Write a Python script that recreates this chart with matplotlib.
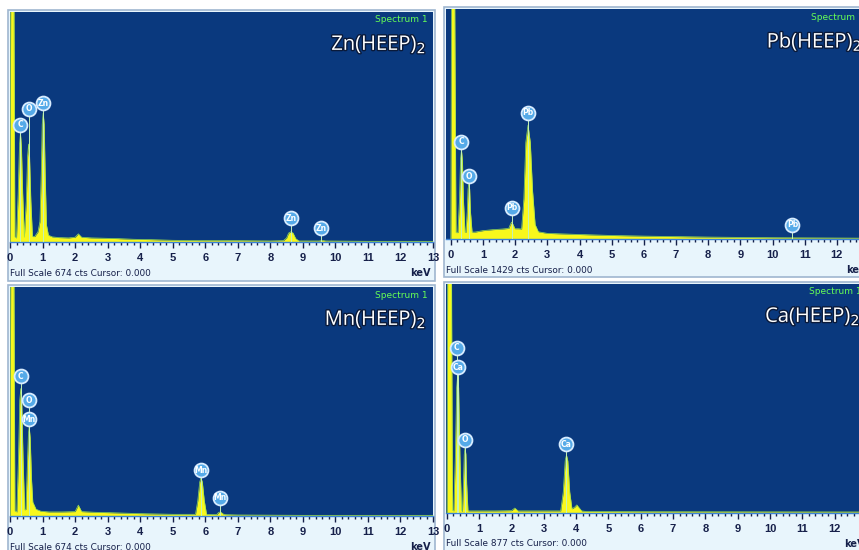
import matplotlib
matplotlib.use("Agg")
import matplotlib.pyplot as plt
import matplotlib.patheffects as pe
from matplotlib.patches import Rectangle
import numpy as np

W, H = 859, 550

# --- spectra: (keV, counts) outline points and peak labels ---
zn_kev = [0.00, 0.02, 0.12, 0.15,
          0.20, 0.25, 0.29, 0.32, 0.35, 0.39, 0.44,
          0.50, 0.54, 0.57, 0.60, 0.64, 0.69,
          0.76, 0.86, 0.92, 0.96, 0.99, 1.02, 1.05, 1.08, 1.12, 1.18,
          1.30, 1.50, 1.80, 2.00, 2.10, 2.20, 2.50, 2.90, 3.30, 3.80,
          4.30, 5.00, 6.00, 7.00, 8.00,
          8.40, 8.50, 8.56, 8.63, 8.70, 8.78, 8.88,
          9.50, 9.60, 9.70, 11.0, 13.0]
zn_cts = [0, 700, 700, 15,
          12, 140, 280, 320, 280, 140, 14,
          120, 250, 287, 250, 120, 16,
          16, 30, 60, 200, 345, 378, 345, 200, 50, 20,
          15, 13, 12, 14, 24, 14, 12, 11, 10, 8,
          7, 5, 4, 4, 3,
          4, 12, 26, 30, 26, 10, 3,
          3, 5, 3, 2, 2]
zn_labels = ["C", "O", "Zn", "Zn", "Zn"]
zn_label_kev = [0.32, 0.57, 1.02, 8.63, 9.57]
zn_label_cts = [343, 390, 407, 70, 41]

pb_kev = [0.00, 0.02, 0.12, 0.16,
          0.22, 0.27, 0.30, 0.33, 0.36, 0.39, 0.44,
          0.47, 0.51, 0.535, 0.56, 0.585, 0.61, 0.66,
          0.75, 1.00, 1.30, 1.60, 1.80, 1.85, 1.89, 1.94, 1.99, 2.10,
          2.20, 2.27, 2.33, 2.40, 2.47, 2.54, 2.62, 2.72,
          3.00, 4.00, 5.00, 6.00, 7.00, 8.00, 9.00, 10.0, 13.0]
pb_cts = [0, 1500, 1500, 40,
          40, 250, 490, 553, 490, 250, 42,
          42, 170, 310, 348, 310, 170, 43,
          43, 52, 58, 62, 66, 90, 105, 88, 64, 64,
          62, 250, 600, 708, 600, 300, 90, 45,
          35, 28, 22, 18, 15, 12, 10, 8, 5]
pb_labels = ["C", "O", "Pb", "Pb", "Pb"]
pb_label_kev = [0.33, 0.56, 1.89, 2.40, 10.62]
pb_label_cts = [603, 391, 193, 783, 87]

mn_kev = [0.00, 0.02, 0.12, 0.15,
          0.21, 0.26, 0.30, 0.33, 0.36, 0.40, 0.45,
          0.49, 0.53, 0.565, 0.59, 0.62, 0.66, 0.70, 0.80,
          0.95, 1.20, 1.60, 2.00, 2.10, 2.20, 2.60, 3.00, 4.00, 5.00,
          5.70, 5.77, 5.83, 5.87, 5.91, 5.97, 6.04,
          6.35, 6.42, 6.47, 6.55, 6.62, 7.00, 9.00, 13.0]
mn_cts = [0, 700, 700, 15,
          12, 170, 340, 375, 340, 170, 18,
          20, 140, 240, 262, 230, 110, 41, 20,
          14, 12, 12, 13, 32, 13, 11, 10, 7, 5,
          5, 45, 100, 112, 100, 45, 5,
          4, 11, 12, 6, 4, 3, 2, 2]
mn_labels = ["C", "O", "Mn", "Mn", "Mn"]
mn_label_kev = [0.33, 0.59, 0.59, 5.87, 6.45]
mn_label_cts = [412, 341, 285, 135, 53]

ca_kev = [0.00, 0.02, 0.14, 0.17,
          0.21, 0.26, 0.30, 0.33, 0.36, 0.40, 0.45,
          0.48, 0.51, 0.535, 0.56, 0.585, 0.61, 0.65,
          0.80, 1.50, 2.00, 2.10, 2.20, 3.00,
          3.52, 3.60, 3.66, 3.70, 3.74, 3.80, 3.87, 3.95, 4.02, 4.09, 4.17,
          4.30, 6.00, 13.0]
ca_cts = [0, 900, 900, 10,
          8, 220, 480, 528, 480, 220, 8,
          8, 110, 225, 249, 225, 110, 8,
          8, 8, 9, 19, 8, 8,
          8, 80, 200, 222, 200, 80, 16, 22, 31, 20, 8,
          6, 5, 4]
ca_labels = ["C", "Ca", "O", "Ca"]
ca_label_kev = [0.30, 0.34, 0.56, 3.70]
ca_label_cts = [632, 559, 280, 264]

names = ["Zn(HEEP)$_2$", "Pb(HEEP)$_2$", "Mn(HEEP)$_2$", "Ca(HEEP)$_2$"]
full_scale = [674, 1429, 674, 877]

# panel geometry in pixels: dark area left, top, bottom, keV at left edge, px per keV
panels = [
    dict(left=10, top=12, bottom=242, x0=0.00, ppk=32.54, frame_bottom=281),
    dict(left=446, top=9, bottom=239, x0=-0.15, ppk=32.17, frame_bottom=277),
    dict(left=10, top=287, bottom=516, x0=0.00, ppk=32.54, frame_bottom=560),
    dict(left=446, top=284, bottom=513, x0=-0.03, ppk=32.3, frame_bottom=560),
]
spectra = [
    (zn_kev, zn_cts, zn_labels, zn_label_kev, zn_label_cts),
    (pb_kev, pb_cts, pb_labels, pb_label_kev, pb_label_cts),
    (mn_kev, mn_cts, mn_labels, mn_label_kev, mn_label_cts),
    (ca_kev, ca_cts, ca_labels, ca_label_kev, ca_label_cts),
]

BG = "#0a397e"
STRIP = "#e8f5fc"
FRAME = "#9fb6d0"
YELLOW = "#f8f81c"
GREEN = "#9be050"
NAVY = "#16204a"
BADGE = "#55aae8"

fig = plt.figure(figsize=(W / 100, H / 100), dpi=100, facecolor="white")


def fx(px):
    return px / W


def fy(py):
    return 1 - py / H


for p, (kev, cts, labels, lab_kev, lab_cts), name, fs in zip(panels, spectra, names, full_scale):
    width_px = (13 - p["x0"]) * p["ppk"]
    right = p["left"] + width_px

    # light frame holding the axis strip
    fig.add_artist(Rectangle((fx(p["left"] - 2), fy(p["frame_bottom"])),
                             fx(width_px + 4), fy(p["top"] - 2) - fy(p["frame_bottom"]),
                             transform=fig.transFigure, facecolor=STRIP,
                             edgecolor=FRAME, lw=1.2, zorder=-1))

    ax = fig.add_axes([fx(p["left"]), fy(p["bottom"]), fx(width_px),
                       fy(p["top"]) - fy(p["bottom"])])
    ax.set_facecolor(BG)
    ax.set_xlim(p["x0"], 13)
    ax.set_ylim(0, fs)

    ax.fill_between(kev, cts, color=YELLOW, lw=0, zorder=2)
    ax.plot(kev, cts, color=GREEN, lw=0.5, zorder=3)

    # element markers
    for lab, xk, yc in zip(labels, lab_kev, lab_cts):
        ax.plot([xk, xk], [0, yc], color="#c4f2b8", lw=0.7, zorder=4)
        ax.plot(xk, yc, "o", ms=10, mfc=BADGE, mec="#d8ecff", mew=1.3, zorder=5)
        ax.text(xk, yc, lab, color="white", fontsize=5.5, fontweight="bold",
                ha="center", va="center", zorder=6)

    fig.text(fx(right - 5), fy(p["top"] + 8), "Spectrum 1", color="#66ff55",
             fontsize=6.5, ha="right", va="center", family="Liberation Sans Narrow")
    fig.text(fx(right - 7), fy(p["top"] + 33), name, color="white", fontsize=14.5,
             ha="right", va="center", family="Open Sans",
             path_effects=[pe.withStroke(linewidth=2, foreground="#0a1a3a")])

    ax.set_xticks(range(0, 14))
    ax.set_xticklabels([str(i) for i in range(0, 14)], fontweight="bold",
                       family="Liberation Sans")
    ax.set_xticks(np.arange(0, 13.01, 0.2), minor=True)
    ax.tick_params(axis="x", which="major", direction="out", length=4, width=1,
                   colors=NAVY, labelsize=8, pad=4)
    ax.tick_params(axis="x", which="minor", direction="out", length=2.5, width=1,
                   colors=NAVY)
    ax.set_yticks([])
    for s in ["top", "left", "right"]:
        ax.spines[s].set_visible(False)
    ax.spines["bottom"].set_color("#3b82d6")
    ax.spines["bottom"].set_linewidth(1)

    fig.text(fx(p["left"]), fy(p["bottom"] + 31), f"Full Scale {fs} cts Cursor: 0.000",
             color=NAVY, fontsize=6.4, ha="left", va="center",
             family="Liberation Sans Narrow")
    fig.text(fx(right - 2), fy(p["bottom"] + 31), "keV", color=NAVY, fontsize=7,
             ha="right", va="center", family="Liberation Sans Narrow", fontweight="bold")

fig.savefig("out.png", dpi=100, facecolor="white")
